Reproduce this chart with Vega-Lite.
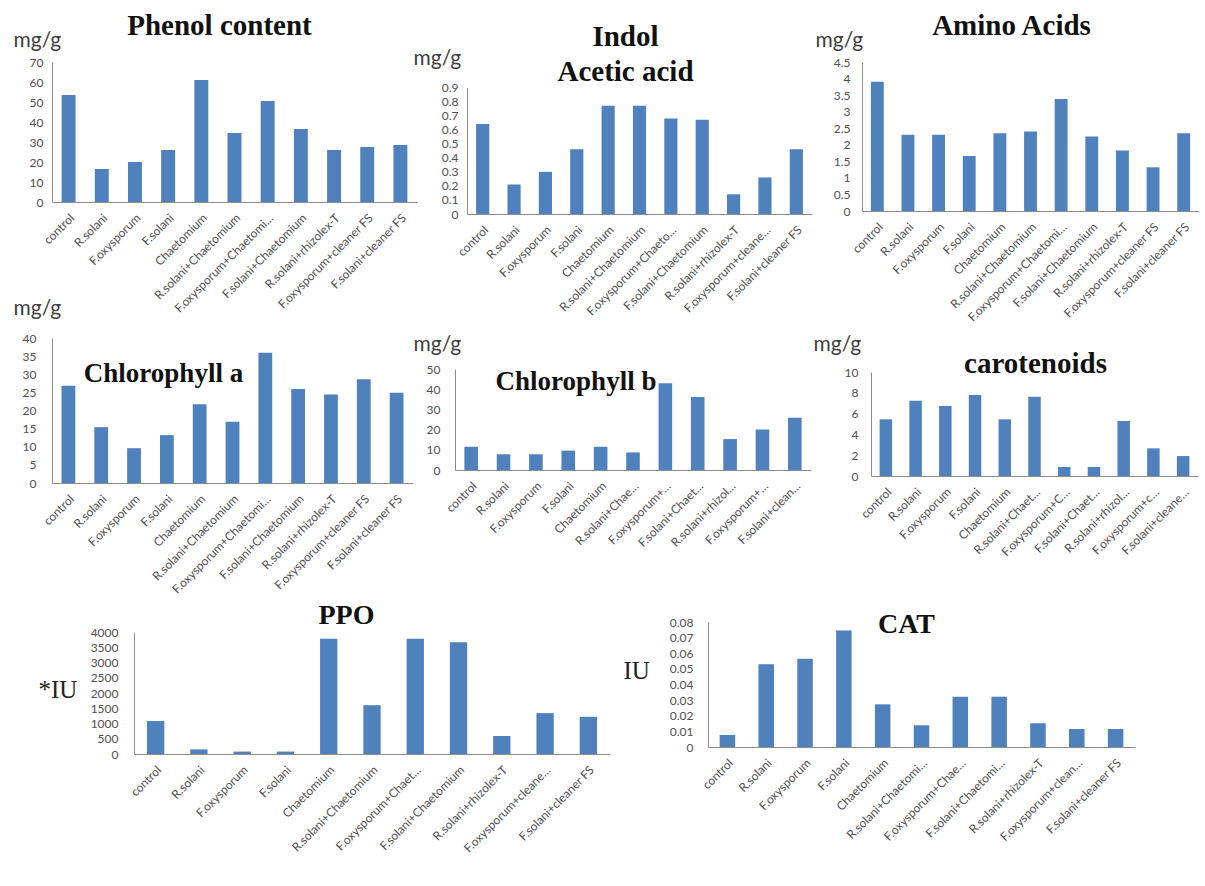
{
  "$schema": "https://vega.github.io/schema/vega-lite/v6.json",
  "background": "white",
  "padding": {"left": 13, "top": 12, "right": 0, "bottom": 0},
  "columns": 3,
  "align": "each",
  "bounds": "flush",
  "spacing": {"row": 124, "column": 38},
  "config": {
    "view": {"stroke": null},
    "bar": {"color": "#4F81BD"},
    "axis": {"domainColor": "#8c8c8c", "domainWidth": 1, "ticks": false, "grid": false, "labelColor": "#505050", "labelFont": "Lato", "labelFontSize": 12, "titleFont": "Lato", "titleFontWeight": "normal", "titleColor": "#404040", "titleFontSize": 21},
    "axisX": {"labelAngle": -45, "labelOverlap": false, "labelPadding": 10},
    "axisY": {"titleAngle": 0, "titleAlign": "left", "titleBaseline": "alphabetic", "labelOverlap": false},
    "title": {"font": "Liberation Serif", "fontSize": 29, "fontWeight": "bold", "color": "#111111", "frame": "group", "anchor": "middle"}
  },
  "concat": [
    {
      "width": 365, "height": 140,
      "title": {"text": "Phenol content", "dx": -15, "dy": 16},
      "data": {"values": [
        {"t": "control", "v": 53.5}, {"t": "R.solani", "v": 16.5}, {"t": "F.oxysporum", "v": 20}, {"t": "F.solani", "v": 26},
        {"t": "Chaetomium", "v": 61}, {"t": "R.solani+Chaetomium", "v": 34.5}, {"t": "F.oxysporum+Chaetomium", "v": 50.5},
        {"t": "F.solani+Chaetomium", "v": 36.5}, {"t": "R.solani+rhizolex-T", "v": 26}, {"t": "F.oxysporum+cleaner FS", "v": 27.5}, {"t": "F.solani+cleaner FS", "v": 28.5}
      ]},
      "mark": {"type": "bar", "width": {"band": 0.42}},
      "encoding": {
        "x": {"field": "t", "type": "nominal", "sort": null, "scale": {"paddingInner": 0, "paddingOuter": 0},
              "axis": {"title": null, "labelExpr": "datum.label == 'F.oxysporum+Chaetomium' ? 'F.oxysporum+Chaetomi…' : datum.label"}},
        "y": {"field": "v", "type": "quantitative", "scale": {"domain": [0, 70], "nice": false},
              "axis": {"values": [0, 10, 20, 30, 40, 50, 60, 70], "format": ".2~f", "labelPadding": 9, "title": "mg/g", "titleX": -39, "titleY": -16}}
      }
    },
    {
      "width": 357, "height": 152,
      "title": {"text": ["Indol", "Acetic acid"], "lineHeight": 35, "dx": -8, "dy": 44},
      "data": {"values": [
        {"t": "control", "v": 0.64}, {"t": "R.solani", "v": 0.21}, {"t": "F.oxysporum", "v": 0.30}, {"t": "F.solani", "v": 0.46},
        {"t": "Chaetomium", "v": 0.77}, {"t": "R.solani+Chaetomium", "v": 0.77}, {"t": "F.oxysporum+Chaetomium", "v": 0.68},
        {"t": "F.solani+Chaetomium", "v": 0.67}, {"t": "R.solani+rhizolex-T", "v": 0.14}, {"t": "F.oxysporum+cleaner FS", "v": 0.26}, {"t": "F.solani+cleaner FS", "v": 0.46}
      ]},
      "mark": {"type": "bar", "width": {"band": 0.42}},
      "encoding": {
        "x": {"field": "t", "type": "nominal", "sort": null, "scale": {"paddingInner": 0, "paddingOuter": 0, "range": [12, 357]},
              "axis": {"title": null, "labelExpr": "datum.label == 'F.oxysporum+Chaetomium' ? 'F.oxysporum+Chaeto…' : datum.label == 'F.oxysporum+cleaner FS' ? 'F.oxysporum+cleane…' : datum.label"}},
        "y": {"field": "v", "type": "quantitative", "scale": {"domain": [0, 0.9], "range": [152, 25.5], "nice": false},
              "axis": {"offset": -12, "values": [0, 0.1, 0.2, 0.3, 0.4, 0.5, 0.6, 0.7, 0.8, 0.9], "format": ".2~f", "labelPadding": 9, "title": "mg/g", "titleX": -54, "titleY": 2}}
      }
    },
    {
      "width": 337, "height": 149,
      "title": {"text": "Amino Acids", "dx": -19, "dy": 16},
      "data": {"values": [
        {"t": "control", "v": 3.9}, {"t": "R.solani", "v": 2.3}, {"t": "F.oxysporum", "v": 2.3}, {"t": "F.solani", "v": 1.66},
        {"t": "Chaetomium", "v": 2.35}, {"t": "R.solani+Chaetomium", "v": 2.4}, {"t": "F.oxysporum+Chaetomium", "v": 3.38},
        {"t": "F.solani+Chaetomium", "v": 2.25}, {"t": "R.solani+rhizolex-T", "v": 1.83}, {"t": "F.oxysporum+cleaner FS", "v": 1.32}, {"t": "F.solani+cleaner FS", "v": 2.35}
      ]},
      "mark": {"type": "bar", "width": {"band": 0.42}},
      "encoding": {
        "x": {"field": "t", "type": "nominal", "sort": null, "scale": {"paddingInner": 0, "paddingOuter": 0},
              "axis": {"title": null, "labelExpr": "datum.label == 'F.oxysporum+Chaetomium' ? 'F.oxysporum+Chaetomi…' : datum.label"}},
        "y": {"field": "v", "type": "quantitative", "scale": {"domain": [0, 4.5], "nice": false},
              "axis": {"values": [0, 0.5, 1, 1.5, 2, 2.5, 3, 3.5, 4, 4.5], "format": ".2~f", "labelPadding": 12, "title": "mg/g", "titleX": -47, "titleY": -16}}
      }
    },
    {
      "width": 361, "height": 160,
      "title": {"text": "Chlorophyll a", "fontSize": 27, "dx": -69, "dy": 95},
      "data": {"values": [
        {"t": "control", "v": 26.8}, {"t": "R.solani", "v": 15.4}, {"t": "F.oxysporum", "v": 9.6}, {"t": "F.solani", "v": 13.2},
        {"t": "Chaetomium", "v": 21.7}, {"t": "R.solani+Chaetomium", "v": 16.9}, {"t": "F.oxysporum+Chaetomium", "v": 35.9},
        {"t": "F.solani+Chaetomium", "v": 25.9}, {"t": "R.solani+rhizolex-T", "v": 24.4}, {"t": "F.oxysporum+cleaner FS", "v": 28.6}, {"t": "F.solani+cleaner FS", "v": 24.9}
      ]},
      "mark": {"type": "bar", "width": {"band": 0.42}},
      "encoding": {
        "x": {"field": "t", "type": "nominal", "sort": null, "scale": {"paddingInner": 0, "paddingOuter": 0},
              "axis": {"title": null, "offset": -15, "labelExpr": "datum.label == 'F.oxysporum+Chaetomium' ? 'F.oxysporum+Chaetomi…' : datum.label"}},
        "y": {"field": "v", "type": "quantitative", "scale": {"domain": [0, 40], "range": [145, 0], "nice": false},
              "axis": {"values": [0, 5, 10, 15, 20, 25, 30, 35, 40], "format": ".2~f", "labelPadding": 16, "title": "mg/g", "titleX": -39, "titleY": -24}}
      }
    },
    {
      "width": 356, "height": 132,
      "title": {"text": "Chlorophyll b", "fontSize": 27, "dx": -57, "dy": 67},
      "data": {"values": [
        {"t": "control", "v": 11.5}, {"t": "R.solani", "v": 7.8}, {"t": "F.oxysporum", "v": 7.8}, {"t": "F.solani", "v": 9.6},
        {"t": "Chaetomium", "v": 11.5}, {"t": "R.solani+Chaetomium", "v": 8.7}, {"t": "F.oxysporum+Chaetomium", "v": 42.9},
        {"t": "F.solani+Chaetomium", "v": 36.1}, {"t": "R.solani+rhizolex-T", "v": 15.3}, {"t": "F.oxysporum+cleaner FS", "v": 20.1}, {"t": "F.solani+cleaner FS", "v": 25.9}
      ]},
      "mark": {"type": "bar", "width": {"band": 0.42}},
      "encoding": {
        "x": {"field": "t", "type": "nominal", "sort": null, "scale": {"paddingInner": 0, "paddingOuter": 0},
              "axis": {"title": null, "labelExpr": "datum.label == 'R.solani+Chaetomium' ? 'R.solani+Chae…' : datum.label == 'F.oxysporum+Chaetomium' ? 'F.oxysporum+…' : datum.label == 'F.solani+Chaetomium' ? 'F.solani+Chaet…' : datum.label == 'R.solani+rhizolex-T' ? 'R.solani+rhizol…' : datum.label == 'F.oxysporum+cleaner FS' ? 'F.oxysporum+…' : datum.label == 'F.solani+cleaner FS' ? 'F.solani+clean…' : datum.label"}},
        "y": {"field": "v", "type": "quantitative", "scale": {"domain": [0, 50], "range": [132, 31], "nice": false},
              "axis": {"values": [0, 10, 20, 30, 40, 50], "format": ".2~f", "labelPadding": 15, "title": "mg/g", "titleX": -42, "titleY": 12}}
      }
    },
    {
      "width": 337, "height": 138,
      "title": {"text": "carotenoids", "dx": 5, "dy": 50},
      "data": {"values": [
        {"t": "control", "v": 5.45}, {"t": "R.solani", "v": 7.24}, {"t": "F.oxysporum", "v": 6.73}, {"t": "F.solani", "v": 7.79},
        {"t": "Chaetomium", "v": 5.45}, {"t": "R.solani+Chaetomium", "v": 7.63}, {"t": "F.oxysporum+Chaetomium", "v": 0.87},
        {"t": "F.solani+Chaetomium", "v": 0.87}, {"t": "R.solani+rhizolex-T", "v": 5.29}, {"t": "F.oxysporum+cleaner FS", "v": 2.66}, {"t": "F.solani+cleaner FS", "v": 1.92}
      ]},
      "mark": {"type": "bar", "width": {"band": 0.42}},
      "encoding": {
        "x": {"field": "t", "type": "nominal", "sort": null, "scale": {"paddingInner": 0, "paddingOuter": 0, "range": [9, 336]},
              "axis": {"title": null, "labelExpr": "datum.label == 'R.solani+Chaetomium' ? 'R.solani+Chaet…' : datum.label == 'F.oxysporum+Chaetomium' ? 'F.oxysporum+C…' : datum.label == 'F.solani+Chaetomium' ? 'F.solani+Chaet…' : datum.label == 'R.solani+rhizolex-T' ? 'R.solani+rhizol…' : datum.label == 'F.oxysporum+cleaner FS' ? 'F.oxysporum+c…' : datum.label == 'F.solani+cleaner FS' ? 'F.solani+cleane…' : datum.label"}},
        "y": {"field": "v", "type": "quantitative", "scale": {"domain": [0, 10], "range": [138, 34], "nice": false},
              "axis": {"offset": -9, "values": [0, 2, 4, 6, 8, 10], "format": ".2~f", "labelPadding": 13, "title": "mg/g", "titleX": -58, "titleY": 12}}
      }
    },
    {
      "width": 365, "height": 132,
      "title": {"text": "PPO", "fontSize": 28, "dx": 112, "dy": 12},
      "data": {"values": [
        {"t": "control", "v": 1080}, {"t": "R.solani", "v": 150}, {"t": "F.oxysporum", "v": 80}, {"t": "F.solani", "v": 80},
        {"t": "Chaetomium", "v": 3780}, {"t": "R.solani+Chaetomium", "v": 1600}, {"t": "F.oxysporum+Chaetomium", "v": 3780},
        {"t": "F.solani+Chaetomium", "v": 3660}, {"t": "R.solani+rhizolex-T", "v": 590}, {"t": "F.oxysporum+cleaner FS", "v": 1340}, {"t": "F.solani+cleaner FS", "v": 1220}
      ]},
      "mark": {"type": "bar", "width": {"band": 0.4}},
      "encoding": {
        "x": {"field": "t", "type": "nominal", "sort": null, "scale": {"paddingInner": 0, "paddingOuter": 0, "range": [82, 558]},
              "axis": {"title": null, "labelExpr": "datum.label == 'F.oxysporum+Chaetomium' ? 'F.oxysporum+Chaet…' : datum.label == 'F.oxysporum+cleaner FS' ? 'F.oxysporum+cleane…' : datum.label"}},
        "y": {"field": "v", "type": "quantitative", "scale": {"domain": [0, 4000], "range": [132, 10], "nice": false},
              "axis": {"offset": -82, "values": [0, 500, 1000, 1500, 2000, 2500, 3000, 3500, 4000], "format": ".2~f", "labelPadding": 16, "title": "*IU", "titleFont": "Liberation Serif", "titleFontSize": 25, "titleColor": "#222222", "titleX": -96, "titleY": 75}}
      }
    },
    {
      "width": 369, "height": 125,
      "title": {"text": "CAT", "fontSize": 28, "dx": 267, "dy": 27},
      "data": {"values": [
        {"t": "control", "v": 0.0077}, {"t": "R.solani", "v": 0.0529}, {"t": "F.oxysporum", "v": 0.0565}, {"t": "F.solani", "v": 0.0745},
        {"t": "Chaetomium", "v": 0.0273}, {"t": "R.solani+Chaetomium", "v": 0.0139}, {"t": "F.oxysporum+Chaetomium", "v": 0.0322},
        {"t": "F.solani+Chaetomium", "v": 0.0322}, {"t": "R.solani+rhizolex-T", "v": 0.0152}, {"t": "F.oxysporum+cleaner FS", "v": 0.0115}, {"t": "F.solani+cleaner FS", "v": 0.0115}
      ]},
      "mark": {"type": "bar", "width": {"band": 0.4}},
      "encoding": {
        "x": {"field": "t", "type": "nominal", "sort": null, "scale": {"paddingInner": 0, "paddingOuter": 0, "range": [253, 680]},
              "axis": {"title": null, "labelExpr": "datum.label == 'R.solani+Chaetomium' ? 'R.solani+Chaetomi…' : datum.label == 'F.oxysporum+Chaetomium' ? 'F.oxysporum+Chae…' : datum.label == 'F.solani+Chaetomium' ? 'F.solani+Chaetomi…' : datum.label == 'F.oxysporum+cleaner FS' ? 'F.oxysporum+clean…' : datum.label"}},
        "y": {"field": "v", "type": "quantitative", "scale": {"domain": [0, 0.08], "nice": false},
              "axis": {"offset": -253, "values": [0, 0.01, 0.02, 0.03, 0.04, 0.05, 0.06, 0.07, 0.08], "format": ".2~f", "labelPadding": 15, "title": "IU", "titleFont": "Liberation Serif", "titleFontSize": 25, "titleColor": "#222222", "titleX": -85, "titleY": 56}}
      }
    }
  ]
}
